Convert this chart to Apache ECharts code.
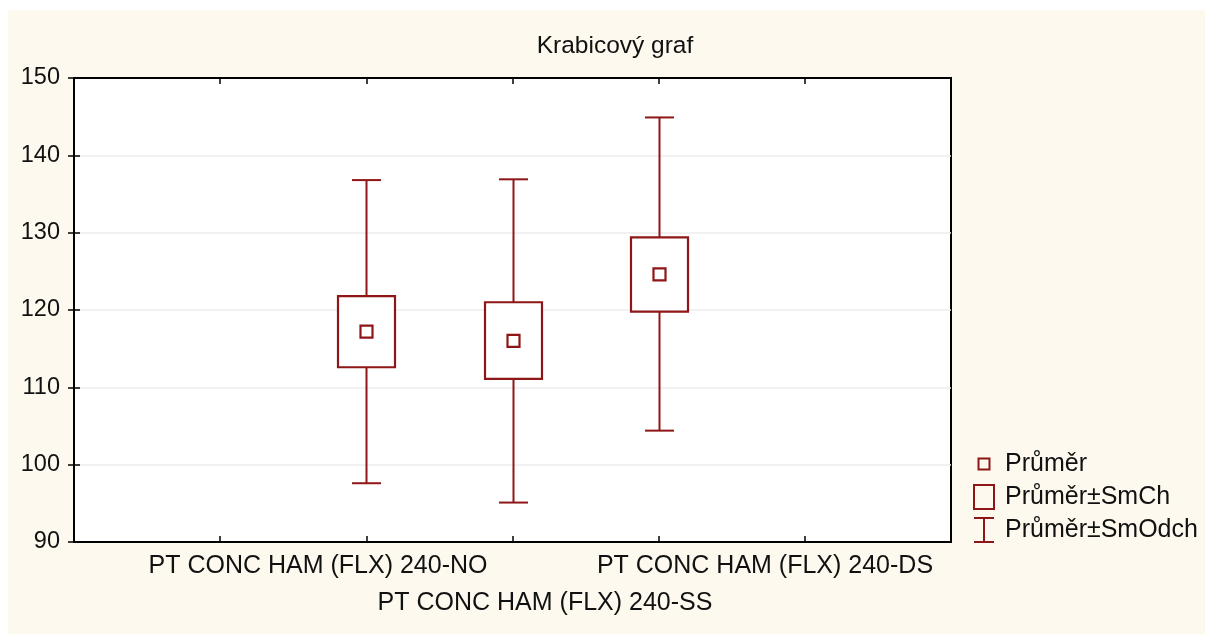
<!DOCTYPE html>
<html>
<head>
<meta charset="utf-8">
<title>Krabicový graf</title>
<script src="https://cdn.jsdelivr.net/npm/echarts@6/dist/echarts.min.js"></script>
<style>
  html, body { margin: 0; padding: 0; background: #ffffff; }
  #paper { position: absolute; left: 8px; top: 10px; width: 1197px; height: 624px; background: #fdf9ef; }
  #chart { position: absolute; left: 0; top: 0; width: 1205px; height: 639px; }
</style>
</head>
<body>
<div id="paper"></div>
<div id="chart"></div>
<script>
// Groups shown on the horizontal axis
const categories = [
  'PT CONC HAM (FLX) 240-NO',
  'PT CONC HAM (FLX) 240-SS',
  'PT CONC HAM (FLX) 240-DS'
];
// Mean of each group
const means = [117.2, 116.0, 124.6];
// Mean ± standard error (box)
const seLow = [112.6, 111.1, 119.8];
const seHigh = [121.8, 121.0, 129.4];
// Mean ± standard deviation (whiskers)
const sdLow = [97.6, 95.1, 104.4];
const sdHigh = [136.8, 136.9, 144.9];
// Value axis ticks
const yTicks = [90, 100, 110, 120, 130, 140, 150];
// Legend entries
const legendNames = ['Průměr', 'Průměr±SmCh', 'Průměr±SmOdch'];
const titleText = 'Krabicový graf';

const RED = '#8e1616';
const FONT = '"Liberation Sans", Arial, sans-serif';

// The groups sit at x = 2, 3, 4 on a 0..6 scale
const firstSlot = 2;
const boxData = categories.map((c, i) => [
  i + firstSlot, means[i], seLow[i], seHigh[i], sdLow[i], sdHigh[i]
]);

function renderBox(params, api) {
  const x = api.value(0);
  const pMean = api.coord([x, api.value(1)]);
  const pSeLo = api.coord([x, api.value(2)]);
  const pSeHi = api.coord([x, api.value(3)]);
  const pSdLo = api.coord([x, api.value(4)]);
  const pSdHi = api.coord([x, api.value(5)]);
  const cx = Math.round(pMean[0]) + 0.5;
  const boxHalf = 28.5, capHalf = 14.5, meanHalf = 6;
  const lineStyle = { stroke: RED, lineWidth: 2, fill: null };
  return {
    type: 'group',
    children: [
      { type: 'line', shape: { x1: cx, y1: pSdHi[1], x2: cx, y2: pSeHi[1] }, style: lineStyle },
      { type: 'line', shape: { x1: cx, y1: pSeLo[1], x2: cx, y2: pSdLo[1] }, style: lineStyle },
      { type: 'line', shape: { x1: cx - capHalf, y1: pSdHi[1], x2: cx + capHalf, y2: pSdHi[1] }, style: lineStyle },
      { type: 'line', shape: { x1: cx - capHalf, y1: pSdLo[1], x2: cx + capHalf, y2: pSdLo[1] }, style: lineStyle },
      { type: 'rect', shape: { x: cx - boxHalf, y: pSeHi[1], width: boxHalf * 2, height: pSeLo[1] - pSeHi[1] },
        style: { stroke: RED, lineWidth: 2.2, fill: '#ffffff' } },
      { type: 'rect', shape: { x: cx - meanHalf, y: pMean[1] - meanHalf, width: meanHalf * 2, height: meanHalf * 2 },
        style: { stroke: RED, lineWidth: 2.2, fill: '#ffffff' } }
    ]
  };
}

// Category labels under the axis (staggered, as in the source layout)
const labelSpots = [[318, 566], [545, 603], [765, 566]];
const axisLabelGraphics = categories.map((c, i) => ({
  type: 'text',
  x: labelSpots[i][0], y: labelSpots[i][1],
  style: { text: c, fill: '#111111', font: '25px ' + FONT, textAlign: 'center', textVerticalAlign: 'middle' }
}));

// Legend drawn by hand: small square, box, I-beam
const lgX = 984, lgY = [464, 497, 530];
const legendGraphics = [
  { type: 'rect', shape: { x: lgX - 5.5, y: lgY[0] - 5.5, width: 11, height: 11 },
    style: { stroke: RED, lineWidth: 2, fill: null } },
  { type: 'rect', shape: { x: lgX - 10, y: lgY[1] - 12, width: 20, height: 24 },
    style: { stroke: RED, lineWidth: 2, fill: null } },
  { type: 'line', shape: { x1: lgX - 10, y1: lgY[2] - 12, x2: lgX + 10, y2: lgY[2] - 12 }, style: { stroke: RED, lineWidth: 2 } },
  { type: 'line', shape: { x1: lgX, y1: lgY[2] - 12, x2: lgX, y2: lgY[2] + 12 }, style: { stroke: RED, lineWidth: 2 } },
  { type: 'line', shape: { x1: lgX - 10, y1: lgY[2] + 12, x2: lgX + 10, y2: lgY[2] + 12 }, style: { stroke: RED, lineWidth: 2 } }
].concat(legendNames.map((n, i) => ({
  type: 'text', x: 1005, y: lgY[i],
  style: { text: n, fill: '#111111', font: '25px ' + FONT, textAlign: 'left', textVerticalAlign: 'middle' }
})));

// Chart title, centred over the page
const titleGraphic = {
  type: 'text', x: 615, y: 46,
  style: { text: titleText, fill: '#111111', font: '24.5px ' + FONT, textAlign: 'center', textVerticalAlign: 'middle' }
};

const tickStyle = { show: true, inside: true, length: 6, lineStyle: { color: '#000', width: 1.5 } };
const frameLine = { show: true, lineStyle: { color: '#000', width: 2 } };

const chart = echarts.init(document.getElementById('chart'), null, { renderer: 'canvas' });
chart.setOption({
  backgroundColor: 'transparent',
  animation: false,
  grid: {
    left: 74, top: 78, width: 877, height: 464,
    show: true, backgroundColor: '#ffffff', borderColor: '#000', borderWidth: 2
  },
  xAxis: [
    { type: 'value', min: 0, max: 6, interval: 1, position: 'bottom',
      axisLine: frameLine, axisTick: tickStyle, axisLabel: { show: false }, splitLine: { show: false } },
    { type: 'value', min: 0, max: 6, interval: 1, position: 'top',
      axisLine: frameLine, axisTick: tickStyle, axisLabel: { show: false }, splitLine: { show: false } }
  ],
  yAxis: [
    { type: 'value', min: yTicks[0], max: yTicks[yTicks.length - 1], interval: yTicks[1] - yTicks[0], position: 'left',
      axisLine: frameLine, axisTick: tickStyle,
      axisLabel: { color: '#111111', fontFamily: FONT, fontSize: 23.5, margin: 14 },
      splitLine: { show: true, lineStyle: { color: '#ececec', width: 1.5 } } },
    { type: 'value', min: yTicks[0], max: yTicks[yTicks.length - 1], interval: yTicks[1] - yTicks[0], position: 'right',
      axisLine: frameLine, axisTick: tickStyle, axisLabel: { show: false }, splitLine: { show: false } }
  ],
  graphic: [titleGraphic].concat(axisLabelGraphics, legendGraphics),
  series: [{
    type: 'custom',
    name: 'Průměr',
    renderItem: renderBox,
    xAxisIndex: 0, yAxisIndex: 0,
    encode: { x: 0, y: [1, 2, 3, 4, 5] },
    data: boxData,
    z: 5
  }]
});
</script>
</body>
</html>
